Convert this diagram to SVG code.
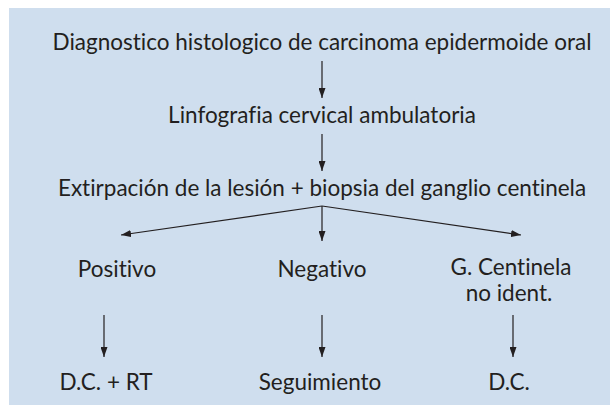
<svg xmlns="http://www.w3.org/2000/svg" width="610" height="405" viewBox="0 0 610 405">
<style>
  text { font-family: Lato, "Liberation Sans", sans-serif; font-size: 22.5px; fill: #231f20; text-anchor: middle; font-variant-ligatures: none; }
  .c line { stroke: #231f20; stroke-width: 1.2; fill: none; }
</style>
<defs>
  <marker id="ah" viewBox="0 0 10 7" refX="10" refY="3.5" markerWidth="10" markerHeight="7" markerUnits="userSpaceOnUse" orient="auto">
    <path d="M0,0 L10,3.5 L0,7 Z" fill="#231f20"/>
  </marker>
</defs>
<rect x="9" y="8" width="601" height="397" fill="#cfdeee"/>
<g id="n1"><text x="322" y="50">Diagnostico histologico de carcinoma epidermoide oral</text></g>
<g id="n2"><text x="322" y="123">Linfografia cervical ambulatoria</text></g>
<g id="n3"><text x="322" y="196">Extirpación de la lesión + biopsia del ganglio centinela</text></g>
<g id="n4"><text x="117" y="277">Positivo</text></g>
<g id="n5"><text x="322" y="277">Negativo</text></g>
<g id="n6"><text x="511" y="275">G. Centinela</text><text x="509" y="301">no ident.</text></g>
<g id="n7"><text x="106" y="390">D.C. + RT</text></g>
<g id="n8"><text x="320" y="390">Seguimiento</text></g>
<g id="n9"><text x="509" y="390">D.C.</text></g>
<g class="c" id="connectors">
  <line x1="322" y1="61" x2="322" y2="98" marker-end="url(#ah)"/>
  <line x1="322" y1="134" x2="322" y2="171" marker-end="url(#ah)"/>
  <line x1="322" y1="206" x2="121" y2="235" marker-end="url(#ah)"/>
  <line x1="322" y1="206" x2="322" y2="241" marker-end="url(#ah)"/>
  <line x1="322" y1="206" x2="521" y2="235" marker-end="url(#ah)"/>
  <line x1="104" y1="315" x2="104" y2="357" marker-end="url(#ah)"/>
  <line x1="322" y1="315" x2="322" y2="357" marker-end="url(#ah)"/>
  <line x1="513" y1="315" x2="513" y2="357" marker-end="url(#ah)"/>
</g>
</svg>
